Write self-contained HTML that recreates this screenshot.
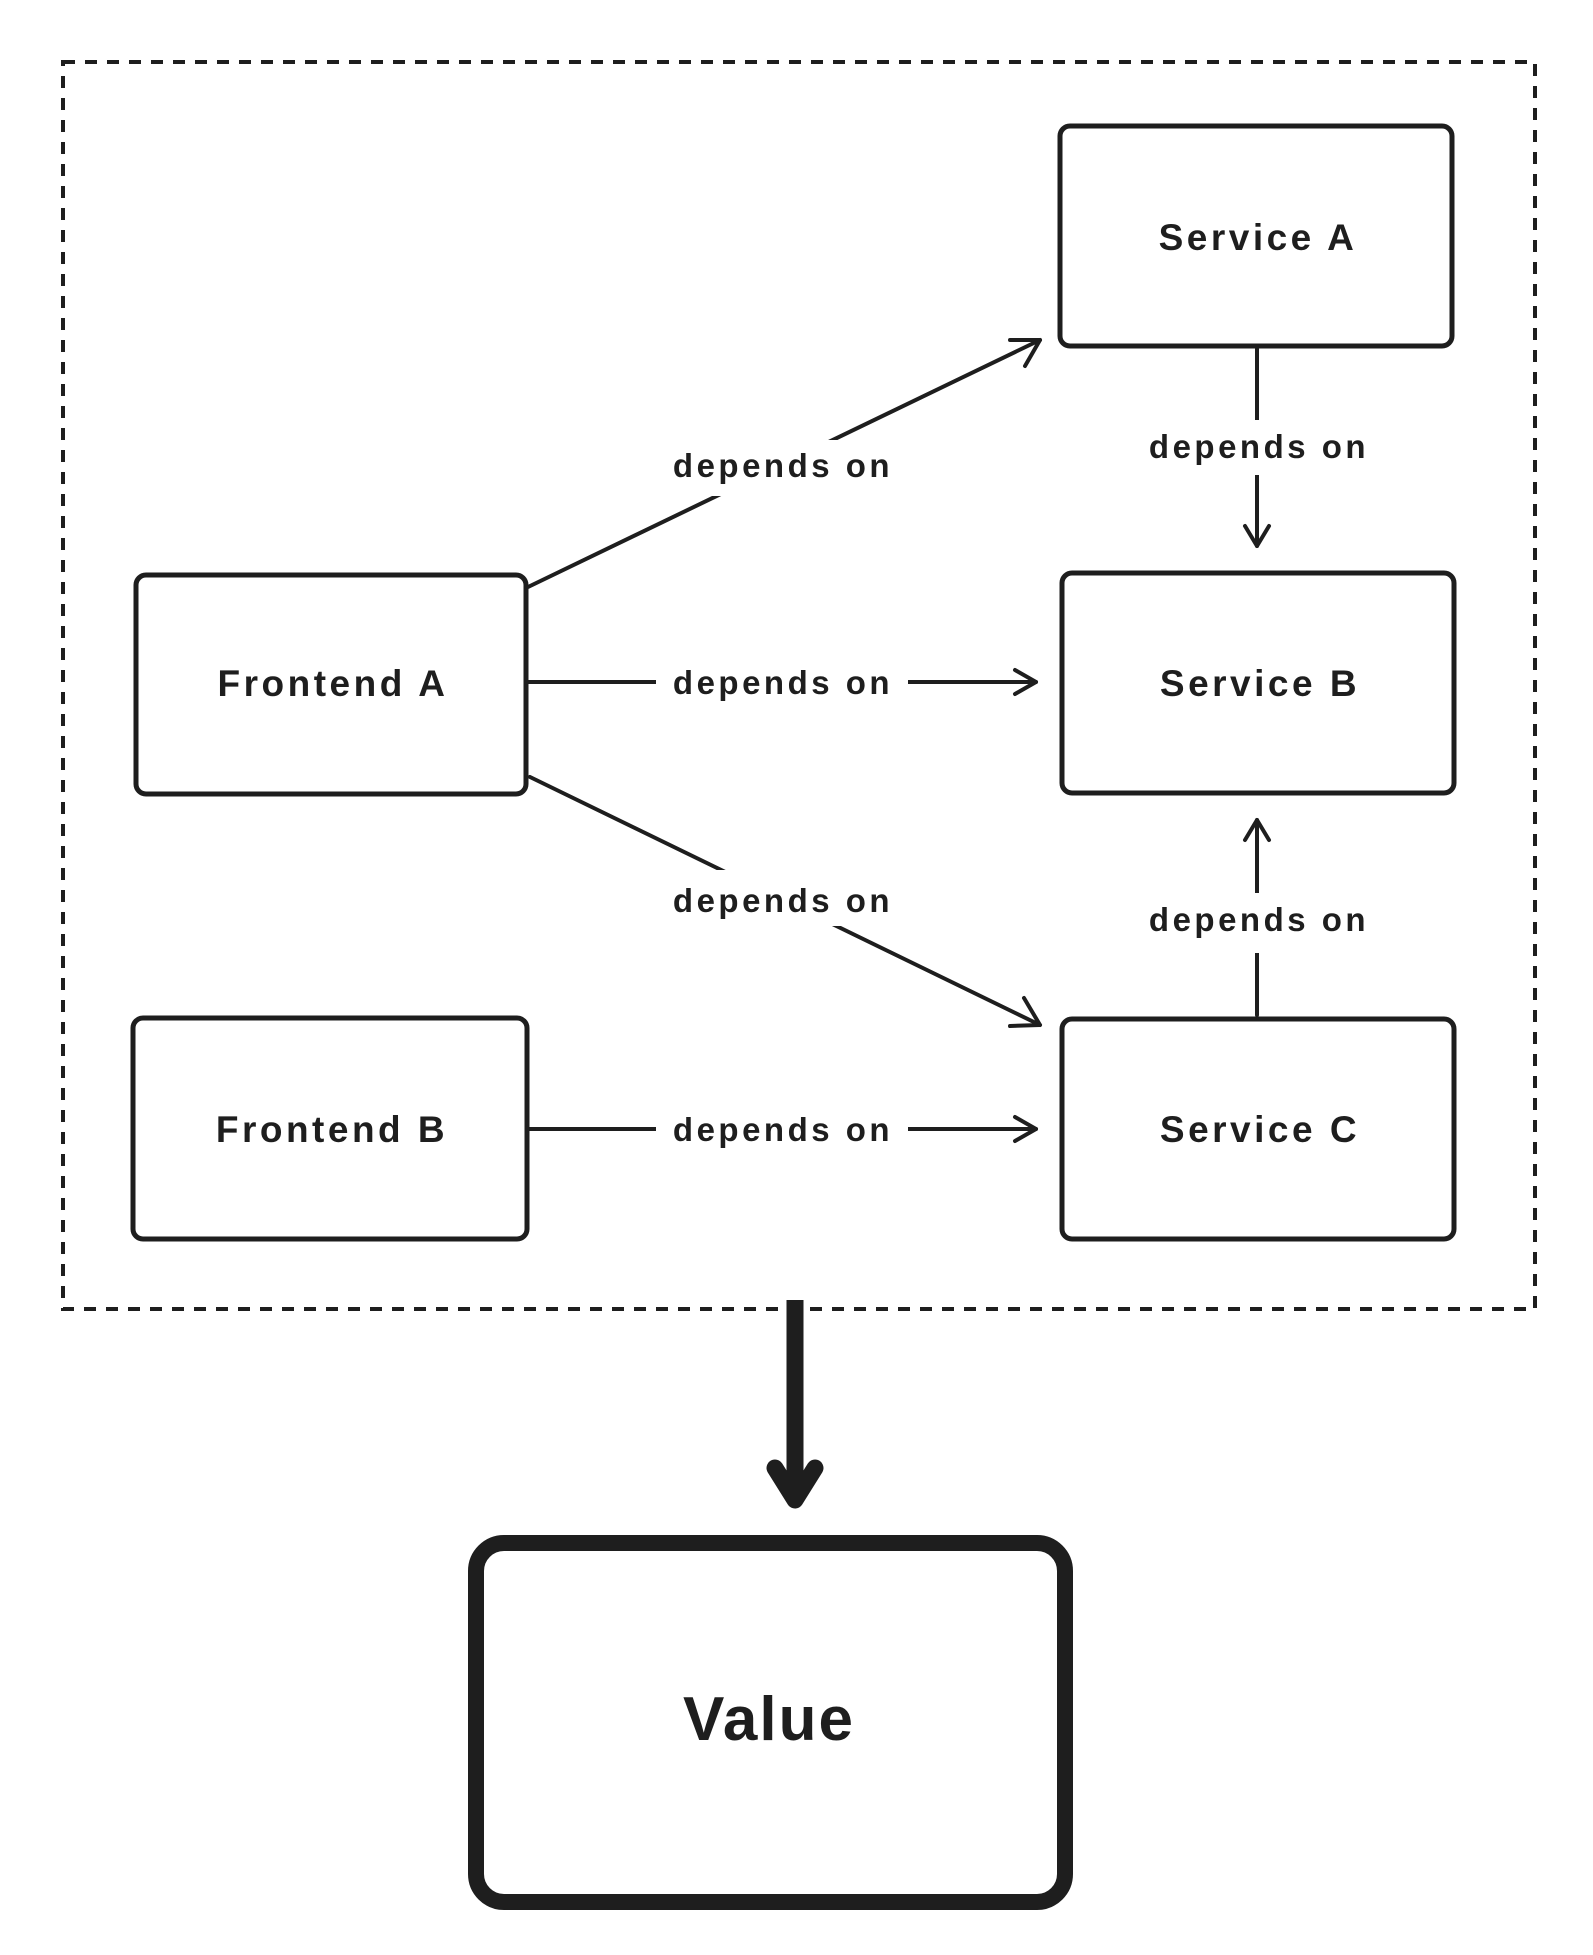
<!DOCTYPE html>
<html><head><meta charset="utf-8"><style>
html,body{margin:0;padding:0;background:#fff;}
svg{display:block;}
text{font-family:"Liberation Sans",sans-serif;font-weight:bold;fill:#1e1e1e;}
</style></head><body>
<svg width="1593" height="1955" viewBox="0 0 1593 1955" xmlns="http://www.w3.org/2000/svg">
<rect x="0" y="0" width="1593" height="1955" fill="#fff"/>
<rect x="63" y="62" width="1472" height="1247" fill="none" stroke="#1e1e1e" stroke-width="4" stroke-dasharray="12 10"/>
<g fill="none" stroke="#1e1e1e" stroke-width="5">
<rect x="1060" y="126" width="392" height="220" rx="10"/>
<rect x="1062" y="573" width="392" height="220" rx="10"/>
<rect x="1062" y="1019" width="392" height="220" rx="10"/>
<rect x="136" y="575" width="390" height="219" rx="10"/>
<rect x="133" y="1018" width="394" height="221" rx="10"/>
</g>
<rect x="476" y="1543" width="589" height="359" rx="28" fill="none" stroke="#1e1e1e" stroke-width="16"/>
<g stroke="#1e1e1e" stroke-width="4" fill="none" stroke-linecap="round" stroke-linejoin="round">
<line x1="528" y1="587" x2="1040" y2="340"/>
<polyline points="1010,340 1040,340 1025,366"/>
<line x1="528" y1="682" x2="1036" y2="682"/>
<polyline points="1015,670 1036,682 1015,694"/>
<line x1="530" y1="777" x2="1040" y2="1025"/>
<polyline points="1024,998 1040,1025 1010,1026"/>
<line x1="528" y1="1129" x2="1036" y2="1129"/>
<polyline points="1015,1117 1036,1129 1015,1141"/>
<line x1="1257" y1="349" x2="1257" y2="546"/>
<polyline points="1245,526 1257,546 1269,526"/>
<line x1="1257" y1="1015" x2="1257" y2="820"/>
<polyline points="1245,840 1257,820 1269,840"/>
</g>
<line x1="795" y1="1300" x2="795" y2="1495" stroke="#1e1e1e" stroke-width="17"/>
<polyline points="775,1468 795,1500 815,1468" fill="none" stroke="#1e1e1e" stroke-width="17" stroke-linecap="round" stroke-linejoin="round"/>
<g fill="#fff">
<rect x="656" y="440" width="252" height="56"/>
<rect x="656" y="660" width="252" height="46"/>
<rect x="656" y="870" width="252" height="56"/>
<rect x="656" y="1107" width="252" height="46"/>
<rect x="1132" y="420" width="250" height="55"/>
<rect x="1132" y="893" width="250" height="60"/>
</g>
<g font-size="33" text-anchor="middle" letter-spacing="3.5">
<text x="783" y="477">depends on</text>
<text x="783" y="694">depends on</text>
<text x="783" y="912">depends on</text>
<text x="783" y="1141">depends on</text>
<text x="1259" y="458">depends on</text>
<text x="1259" y="931">depends on</text>
</g>
<g font-size="37" text-anchor="middle" letter-spacing="3.5">
<text x="1258" y="250">Service A</text>
<text x="1260" y="696">Service B</text>
<text x="1260" y="1142">Service C</text>
<text x="333" y="696">Frontend A</text>
<text x="332" y="1142">Frontend B</text>
</g>
<text x="769" y="1740" font-size="62" text-anchor="middle" letter-spacing="2">Value</text>
</svg>
</body></html>
